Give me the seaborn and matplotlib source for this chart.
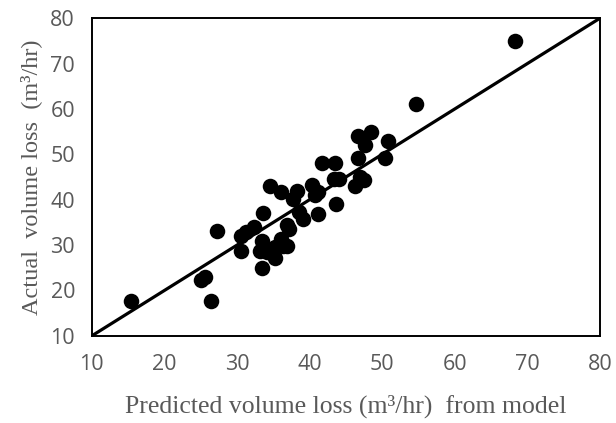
import matplotlib
matplotlib.use("Agg")
import matplotlib.pyplot as plt
import seaborn as sns
import pandas as pd

predicted = [15.4, 25.1, 25.6, 26.4, 27.3, 30.6, 30.6, 31.3, 32.3, 33.6,
             33.4, 33.2, 33.4, 33.7, 34.2, 34.5, 35.3, 35.3, 36.1, 36.4,
             36.1, 36.9, 36.9, 37.1, 37.7, 38.3, 38.5, 39.1, 40.4, 40.7,
             41.1, 41.2, 41.7, 43.5, 43.4, 44.0, 43.7, 46.3, 46.7, 46.7,
             47.0, 47.5, 47.7, 48.5, 50.4, 50.8, 54.6, 68.3]
actual = [17.7, 22.2, 22.9, 17.7, 33.1, 28.8, 32.0, 32.8, 34.0, 37.1,
          24.9, 28.8, 31.0, 29.5, 28.4, 43.0, 27.1, 29.5, 31.4, 29.9,
          41.8, 29.9, 34.5, 33.6, 40.2, 42.0, 37.3, 35.8, 43.2, 41.0,
          41.8, 36.9, 48.0, 48.0, 44.6, 44.6, 39.1, 43.0, 49.1, 54.1,
          45.0, 44.3, 52.0, 55.0, 49.1, 52.9, 61.0, 75.0]
line_x = [10, 80]
line_y = [10, 80]
ticks = [10, 20, 30, 40, 50, 60, 70, 80]

df = pd.DataFrame({"predicted": predicted, "actual": actual})
lf = pd.DataFrame({"x": line_x, "y": line_y})

sns.set_theme(style="white")
fig = plt.figure(figsize=(6.16, 4.23), dpi=100)
ax = fig.add_axes([0.149, 0.206, 0.825, 0.751])

sns.lineplot(data=lf, x="x", y="y", ax=ax, color="black", linewidth=2.3)
sns.scatterplot(data=df, x="predicted", y="actual", ax=ax, color="black",
                s=125, edgecolor="black", linewidth=0, zorder=3)

ax.set_xlim(10, 80)
ax.set_ylim(10, 80)
ax.set_xticks(ticks)
ax.set_yticks(ticks)
ax.tick_params(axis="both", length=0, labelsize=15.5, labelcolor="#595959")
ax.tick_params(axis="y", pad=12)
ax.tick_params(axis="x", pad=13)
for lab in ax.get_xticklabels() + ax.get_yticklabels():
    lab.set_family("Open Sans")
for sp in ax.spines.values():
    sp.set_color("black")
    sp.set_linewidth(1.4)

ax.set_xlabel("Predicted volume loss (m\u00b3/hr)  from model", family="Liberation Serif",
              fontsize=18.5, color="#595959", labelpad=14)
ax.set_ylabel("Actual  volume loss  (m\u00b3/hr)", family="Liberation Serif",
              fontsize=17.5, color="#595959", labelpad=6)

fig.savefig("out.png", dpi=100, facecolor="white")
